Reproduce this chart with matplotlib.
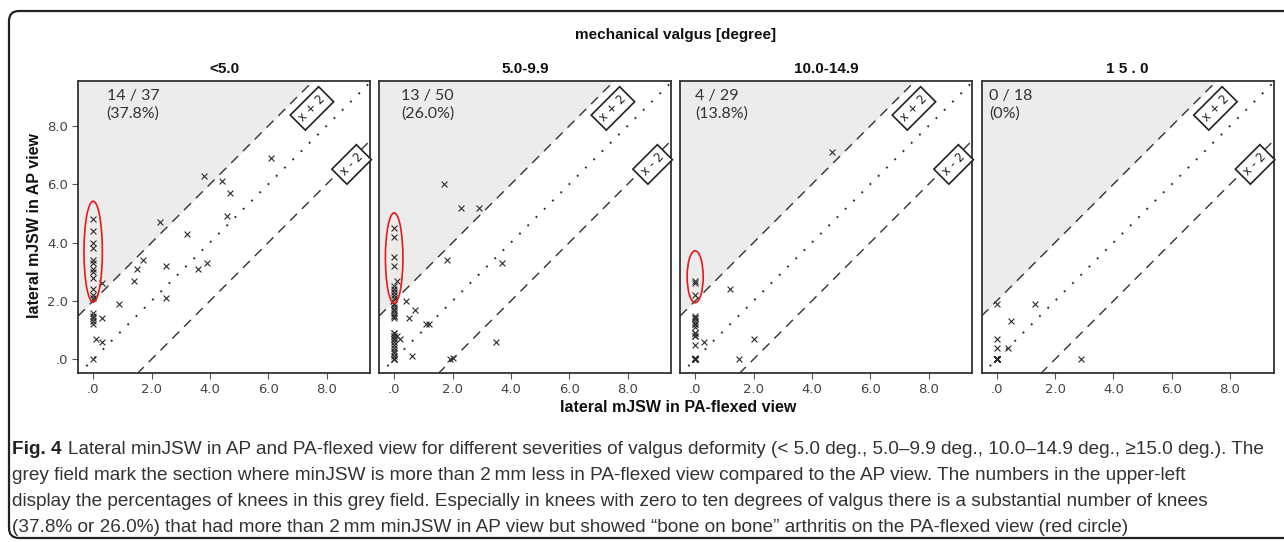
import numpy as np
import matplotlib
matplotlib.use("Agg")
import matplotlib.pyplot as plt
from matplotlib.patches import Ellipse, FancyBboxPatch

# ── Data ─────────────────────────────────────────────────────────────────────
groups = ["<5.0", "5.0-9.9", "10.0-14.9", "1 5 . 0"]
counts = ["14 / 37\n(37.8%)", "13 / 50\n(26.0%)", "4 / 29\n(13.8%)", "0 / 18\n(0%)"]

pa_1 = [0.0] * 12 + [0.0] * 6 + [0.1, 0.3, 0.3, 0.3, 0.9, 1.4, 1.5, 1.7, 2.3, 2.5,
                                2.5, 3.2, 3.6, 3.9, 3.8, 4.4, 4.7, 4.6, 6.1]
ap_1 = [4.8, 4.4, 4.0, 3.8, 3.4, 3.3, 3.1, 3.0, 2.8, 2.4, 2.2, 2.1,
        1.6, 1.5, 1.4, 1.3, 1.2, 0.0,
        0.7, 0.6, 1.4, 2.6, 1.9, 2.7, 3.1, 3.4, 4.7, 3.2,
        2.1, 4.3, 3.1, 3.3, 6.3, 6.1, 5.7, 4.9, 6.9]

pa_2 = [1.7, 2.3, 2.9, 0.0, 0.0, 0.0, 0.0, 0.1, 0.0, 0.0, 0.0, 0.0, 0.0,
        1.8, 3.7, 0.4, 0.7, 0.5, 1.1, 1.2, 0.2, 0.1, 0.6, 1.9, 2.0, 3.5] + [0.0] * 24
ap_2 = [6.0, 5.2, 5.2, 4.5, 4.2, 3.5, 3.2, 2.7, 2.5, 2.4, 2.3, 2.2, 2.1,
        3.4, 3.3, 2.0, 1.7, 1.4, 1.2, 1.2, 0.7, 0.8, 0.1, 0.0, 0.05, 0.6,
        1.9, 1.9, 1.8, 1.7, 1.7, 1.6, 1.5, 1.5, 1.4,
        0.9, 0.9, 0.8, 0.8, 0.7, 0.7, 0.6, 0.5, 0.4, 0.3, 0.2, 0.1, 0.0, 0.0, 0.0]

pa_3 = [4.7, 0.0, 0.0, 0.0, 1.2, 0.3, 2.0, 1.5] + [0.0] * 21
ap_3 = [7.1, 2.7, 2.6, 2.2, 2.4, 0.6, 0.7, 0.0,
        1.5, 1.4, 1.4, 1.3, 1.2, 1.2, 1.1, 0.9, 0.9, 0.8, 0.8, 0.5,
        0.05, 0.0, 0.0, 0.0, 0.0, 0.0, 0.0, 0.0, 0.0]

pa_4 = [0.0, 1.3, 0.5, 0.0, 0.0, 0.4, 2.9] + [0.0] * 11
ap_4 = [1.9, 1.9, 1.3, 0.7, 0.4, 0.4, 0.0] + [0.0] * 11

pa_vals = [pa_1, pa_2, pa_3, pa_4]
ap_vals = [ap_1, ap_2, ap_3, ap_4]

# red circles round the "bone on bone" knees: (centre y, width, height)
circles = [(3.69, 0.63, 3.46), (3.47, 0.60, 3.10), (2.83, 0.55, 1.78), None]
count_x = [0.46, 0.23, 0.0, -0.26]

caption_head = "Fig. 4"
caption = [
    "Lateral minJSW in AP and PA-flexed view for different severities of valgus deformity (< 5.0 deg., 5.0\u20139.9 deg., 10.0\u201314.9 deg., \u226515.0 deg.). The",
    "grey field mark the section where minJSW is more than 2\u2009mm less in PA-flexed view compared to the AP view. The numbers in the upper-left",
    "display the percentages of knees in this grey field. Especially in knees with zero to ten degrees of valgus there is a substantial number of knees",
    "(37.8% or 26.0%) that had more than 2\u2009mm minJSW in AP view but showed \u201cbone on bone\u201d arthritis on the PA-flexed view (red circle)",
]

# ── Layout ───────────────────────────────────────────────────────────────────
W, H = 1284, 542
fig = plt.figure(figsize=(W / 100, H / 100), dpi=100)
fig.patch.set_facecolor("white")

XLIM = (-0.52, 9.49)
YLIM = (-0.47, 9.54)
ax_left = [78, 379, 680, 981.5]
ax_w, ax_top, ax_bot = 292, 81, 373

dark = "#333333"
ticks = [0, 2, 4, 6, 8]
tick_lbl = [".0", "2.0", "4.0", "6.0", "8.0"]
xx = np.array([XLIM[0], XLIM[1]])

for i, grp in enumerate(groups):
    ax = fig.add_axes([ax_left[i] / W, (H - ax_bot) / H, ax_w / W, (ax_bot - ax_top) / H])
    ax.set_xlim(*XLIM)
    ax.set_ylim(*YLIM)

    # grey field above x + 2
    ax.fill_between(xx, xx + 2, YLIM[1] + 5, color="#ececec", lw=0, zorder=0)
    ax.plot(xx, xx + 2, color=dark, lw=1.0, ls=(0, (7, 5)), zorder=1)
    ax.plot(xx, xx, color=dark, lw=1.4, ls=(0, (1, 5)), zorder=1)
    ax.plot(xx, xx - 2, color=dark, lw=1.0, ls=(0, (7, 5)), zorder=1)

    for lbl, (bx, by) in [("x + 2", (7.5, 8.6)), ("x - 2", (8.86, 6.68))]:
        ax.text(bx, by, lbl, rotation=45, ha="center", va="center", fontsize=8.5,
                family="DejaVu Sans", color="#222222", zorder=4,
                bbox=dict(boxstyle="square,pad=0.35", fc="white", ec="#222222", lw=1.2))

    ax.scatter(pa_vals[i], ap_vals[i], marker="x", s=18, lw=0.8, color="#2a2a2a", zorder=3)

    if circles[i] is not None:
        cy, cw, ch = circles[i]
        ax.add_patch(Ellipse((0, cy), cw, ch, fill=False, ec="#e8191c", lw=1.2, zorder=5))

    ax.text(count_x[i], 9.25, counts[i], ha="left", va="top", fontsize=11.5,
            family="Lato", color="#333333", linespacing=1.25, zorder=4)

    ax.set_title(grp, fontsize=11, fontweight="bold", family="Liberation Sans",
                 color="#111111", pad=6)

    ax.set_xticks(ticks)
    ax.set_xticklabels(tick_lbl)
    if i == 0:
        ax.set_yticks(ticks)
        ax.set_yticklabels(tick_lbl)
    else:
        ax.set_yticks([])
    ax.tick_params(direction="out", length=4, width=0.8, color="#555555",
                   labelsize=9.5, labelcolor="#444444", pad=3)
    for s in ax.spines.values():
        s.set_color(dark)
        s.set_linewidth(1.3)

fig.text(676 / W, 1 - 35 / H, "mechanical valgus [degree]", ha="center", va="center",
         fontsize=11, fontweight="bold", family="Liberation Sans", color="#111111")
fig.text(678 / W, 1 - 408 / H, "lateral mJSW in PA-flexed view", ha="center", va="center",
         fontsize=11.5, fontweight="bold", family="Liberation Sans", color="#111111")
fig.text(35 / W, 1 - 225 / H, "lateral mJSW in AP view", ha="center", va="center",
         rotation=90, fontsize=11.5, fontweight="bold", family="Liberation Sans", color="#111111")

# ── Caption: size chosen so that the first line spans the same width ────────
cap_font = "Liberation Sans"
line_y = [449, 476, 502, 528]
renderer = fig.canvas.get_renderer()
cap_size = 13.0
head = fig.text(12 / W, 1 - line_y[0] / H, caption_head, ha="left", va="center",
                fontsize=cap_size, fontweight="bold", family=cap_font, color="#222222")
body = [fig.text(12 / W, 1 - line_y[k] / H, line, ha="left", va="center",
                 fontsize=cap_size, family=cap_font, color="#333333")
        for k, line in enumerate(caption)]
gap = 6
total = (head.get_window_extent(renderer).width + gap
         + body[0].get_window_extent(renderer).width)
cap_size = cap_size * (1270 - 12) / total
head.set_fontsize(cap_size)
for t in body:
    t.set_fontsize(cap_size)
head_w = head.get_window_extent(renderer).width
body[0].set_x((12 + head_w + gap * cap_size / 13.0) / W)

# rounded frame round the whole figure (open on the right)
frame = FancyBboxPatch((0.09, 0.04), 13.2, 5.27, boxstyle="round,pad=0,rounding_size=0.1",
                       transform=fig.dpi_scale_trans, fill=False, ec="#222222", lw=1.6)
fig.patches.append(frame)

fig.savefig("out.png", dpi=100)
